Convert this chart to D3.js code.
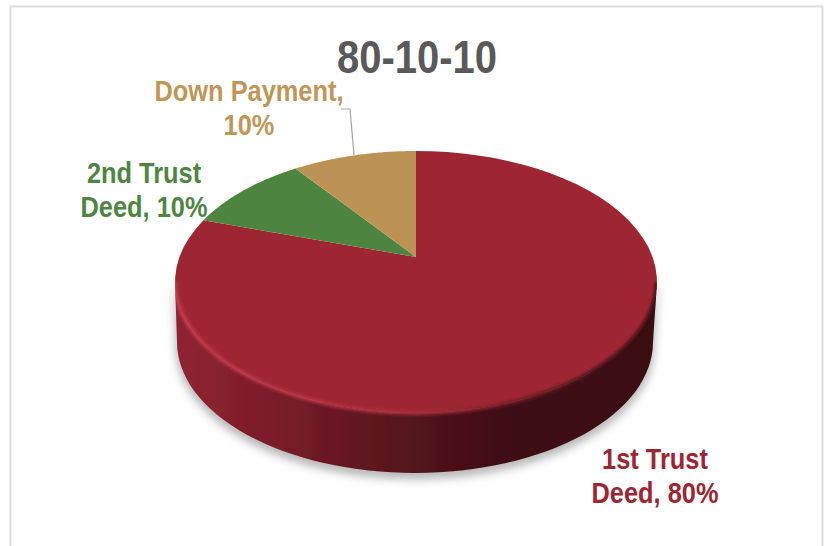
<!DOCTYPE html>
<html>
<head>
<meta charset="utf-8">
<script src="https://cdn.jsdelivr.net/npm/d3@7"></script>
<style>
  html, body { margin: 0; padding: 0; background: #fff; }
  svg { display: block; }
  text { font-family: "Liberation Sans", sans-serif; font-weight: 700; text-anchor: middle; }
</style>
</head>
<body>
<svg id="chart" width="825" height="546"></svg>
<script>
// Loan structure shown by the chart
const chartTitle = "80-10-10";
const categories = ["1st Trust Deed", "2nd Trust Deed", "Down Payment"];
const shares = [80, 10, 10];
const sliceColors = ["#9e2632", "#4d843f", "#bd9355"];
const labelColors = ["#9e2632", "#4e8540", "#c09556"];

const W = 825, H = 546;
const svg = d3.select("#chart");
const defs = svg.append("defs");

// Frame around the chart area
svg.append("path")
  .attr("d", `M10.5,${H} V6.5 H822.5 V${H}`)
  .attr("fill", "none").attr("stroke", "#dedede").attr("stroke-width", 2);

// Tilted disc: the upper face and the base are ellipses in screen space
const faceX = d3.scaleLinear().domain([-1, 1]).range([175, 657]);
const faceY = d3.scaleLinear().domain([-1, 1]).range([413, 151]);
const baseX = d3.scaleLinear().domain([-1, 1]).range([177, 653]);
const baseY = d3.scaleLinear().domain([-1, 1]).range([473, 211]);

// Perspective pulls the disc centre above the middle of the ellipse
const tilt = 0.19;
function project(angle) {
  const u = Math.sin(angle), v = Math.cos(angle), d = 1 + tilt * v;
  return [u * Math.sqrt(1 - tilt * tilt) / d, (v + tilt) / d];
}
const onFace = ([x, y]) => [faceX(x), faceY(y)];
const onBase = ([x, y]) => [baseX(x), baseY(y)];
const line = d3.line();
const arcSamples = (a0, a1) => d3.range(0, 65).map(i => a0 + (a1 - a0) * i / 64);
const ellipsePoint = t => [Math.cos(t), Math.sin(t)];

const pieAngles = d3.pie().sort(null).value(d => d).startAngle(0).endAngle(2 * Math.PI)(shares);

// Filters and gradients for the side wall, rim and cast shadow
const blur = (id, s) => defs.append("filter").attr("id", id)
  .attr("x", "-10%").attr("y", "-10%").attr("width", "120%").attr("height", "120%")
  .append("feGaussianBlur").attr("stdDeviation", s);
blur("shadowBlur", 4);
blur("rimBlur", 1.8);
blur("edgeSoft", 0.6);

const gradient = (id, stops) => {
  const g = defs.append("linearGradient").attr("id", id)
    .attr("gradientUnits", "userSpaceOnUse")
    .attr("x1", faceX(-1)).attr("x2", faceX(1)).attr("y1", 0).attr("y2", 0);
  stops.forEach(([o, c]) => g.append("stop").attr("offset", o).attr("stop-color", c));
};
gradient("wallFill", [[0, "#8f2331"], [0.2, "#7b1d29"], [0.45, "#58131d"], [0.68, "#3f0f14"], [1, "#3a0e11"]]);
gradient("rimStroke", [[0, "#c23a4b"], [0.3, "#b53444"], [0.5, "#a52e3b"], [0.68, "#7a1f28"], [0.85, "#4a1217"], [1, "#3a0e11"]]);

const faceLower = d3.range(0, 65).map(i => ellipsePoint(Math.PI * i / 64 + Math.PI));
const wallPoints = faceLower.map(onFace).concat(faceLower.slice().reverse().map(onBase));

// Cast shadow below the wall
svg.append("path")
  .attr("d", line(wallPoints) + "Z")
  .attr("transform", "translate(0,5)")
  .attr("fill", "#7f7f7f").attr("opacity", 0.55)
  .attr("stroke", "#7f7f7f").attr("stroke-width", 3)
  .attr("filter", "url(#shadowBlur)");

const disc = svg.append("g").attr("filter", "url(#edgeSoft)");

disc.append("path").attr("d", line(wallPoints) + "Z").attr("fill", "url(#wallFill)");

// Upper face slices, each running from the disc centre around its arc
const apex = [faceX(0), faceY(tilt)];
disc.selectAll("path.slice").data(pieAngles).join("path")
  .attr("class", "slice")
  .attr("fill", (d, i) => sliceColors[i])
  .attr("d", d => line([apex, ...arcSamples(d.startAngle, d.endAngle).map(a => onFace(project(a)))]) + "Z");

// Rounded rim along the near edge of the face, kept inside the disc outline
const fullFace = d3.range(0, 129).map(i => onFace(ellipsePoint(i / 128 * 2 * Math.PI)));
const clip = defs.append("clipPath").attr("id", "discClip");
clip.append("path").attr("d", line(fullFace) + "Z");
clip.append("path").attr("d", line(wallPoints) + "Z");
svg.append("g").attr("clip-path", "url(#discClip)")
  .append("path")
  .attr("d", line(faceLower.map(onFace)))
  .attr("fill", "none").attr("stroke", "url(#rimStroke)").attr("stroke-width", 4)
  .attr("filter", "url(#rimBlur)");

// Data labels, condensed to the narrow face of the chart's lettering
const labelLines = [
  ["1st Trust", `Deed, ${shares[0]}%`],
  ["2nd Trust", `Deed, ${shares[1]}%`],
  ["Down Payment,", `${shares[2]}%`]
];
const labelAnchors = [[655, 469, 503], [144, 183, 217], [249, 101, 135]];
const condense = 0.875;
labelLines.forEach((lines, i) => {
  const [x, y0, y1] = labelAnchors[i];
  svg.selectAll(null).data(lines).join("text")
    .attr("x", x).attr("y", (d, k) => k ? y1 : y0)
    .attr("font-size", 29).attr("fill", labelColors[i])
    .text(d => d)
    .each(function () {
      d3.select(this)
        .attr("textLength", this.getComputedTextLength() * condense)
        .attr("lengthAdjust", "spacingAndGlyphs");
    });
});

// Leader from the down payment label to the middle of its slice
const mid = (pieAngles[2].startAngle + pieAngles[2].endAngle) / 2;
const leaderEnd = onFace(project(mid));
svg.append("path")
  .attr("d", line([[341, 109], [350, 109], leaderEnd]))
  .attr("fill", "none").attr("stroke", "#a6a6a6").attr("stroke-width", 1.2);

// Title
svg.append("text").attr("x", 417).attr("y", 73)
  .attr("font-size", 46).attr("fill", "#595959")
  .attr("textLength", 160).attr("lengthAdjust", "spacingAndGlyphs")
  .text(chartTitle);
</script>
</body>
</html>
